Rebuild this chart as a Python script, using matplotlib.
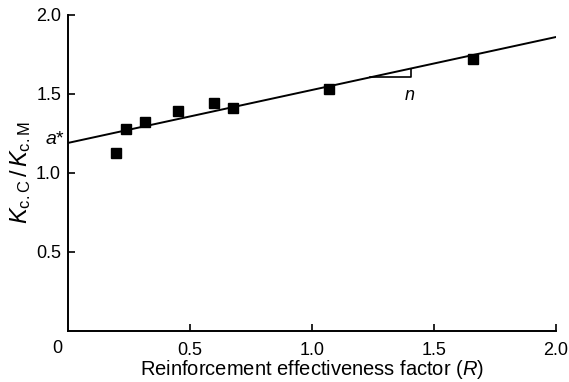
import numpy as np
import matplotlib.pyplot as plt

plt.rcParams['font.family'] = ['Liberation Sans', 'DejaVu Sans']
plt.rcParams['mathtext.fontset'] = 'custom'
plt.rcParams['mathtext.rm'] = 'Liberation Sans'
plt.rcParams['mathtext.it'] = 'Liberation Sans:italic'

# data
R = [0.195, 0.238, 0.316, 0.452, 0.598, 0.678, 1.071, 1.661]
K_ratio = [1.128, 1.277, 1.325, 1.394, 1.445, 1.409, 1.530, 1.720]
fit_a = 1.19
fit_n = 0.335
x_ticks = [0.5, 1.0, 1.5, 2.0]
y_ticks = [0.5, 1.0, 1.5, 2.0]

fig = plt.figure(figsize=(5.69, 3.82), dpi=100)
ax = fig.add_axes([0.1195, 0.1335, 0.8575, 0.8275])

xf = np.array([0.0, 2.0])
ax.plot(xf, fit_a + fit_n*xf, color='black', lw=1.4, zorder=2)
ax.plot(R, K_ratio, 's', color='black', ms=7, zorder=3)

# slope triangle
x1, x2 = 1.238, 1.405
y1 = fit_a + fit_n*x1
ax.plot([x1, x2, x2], [y1, y1, fit_a + fit_n*x2], color='black', lw=1.2)
ax.text(1.40, 1.49, '$n$', fontsize=13, ha='center', va='center')
ax.text(-0.012, fit_a + 0.02, '$a$*', fontsize=14, ha='right', va='center')

ax.set_xlim(0, 2.0)
ax.set_ylim(0, 2.0)
ax.set_xticks(x_ticks)
ax.set_xticklabels(['0.5', '1.0', '1.5', '2.0'])
ax.set_yticks(y_ticks)
ax.set_yticklabels(['0.5', '1.0', '1.5', '2.0'])
ax.tick_params(direction='in', length=5, width=1.2, labelsize=13)
ax.tick_params(axis='x', pad=8)
ax.tick_params(axis='y', pad=5)
ax.text(-0.045, -0.11, '0', fontsize=13, ha='center', va='center',
        transform=ax.transData, clip_on=False)

for s in ['top', 'right']:
    ax.spines[s].set_visible(False)
for s in ['left', 'bottom']:
    ax.spines[s].set_linewidth(1.4)

ax.set_xlabel('Reinforcement effectiveness factor ($R$)', fontsize=14.5, labelpad=-1)
ax.set_ylabel(r'$K_{\mathrm{c.C}}\,/\,K_{\mathrm{c.M}}$', fontsize=17, labelpad=2)

fig.savefig('out.png', dpi=100)
